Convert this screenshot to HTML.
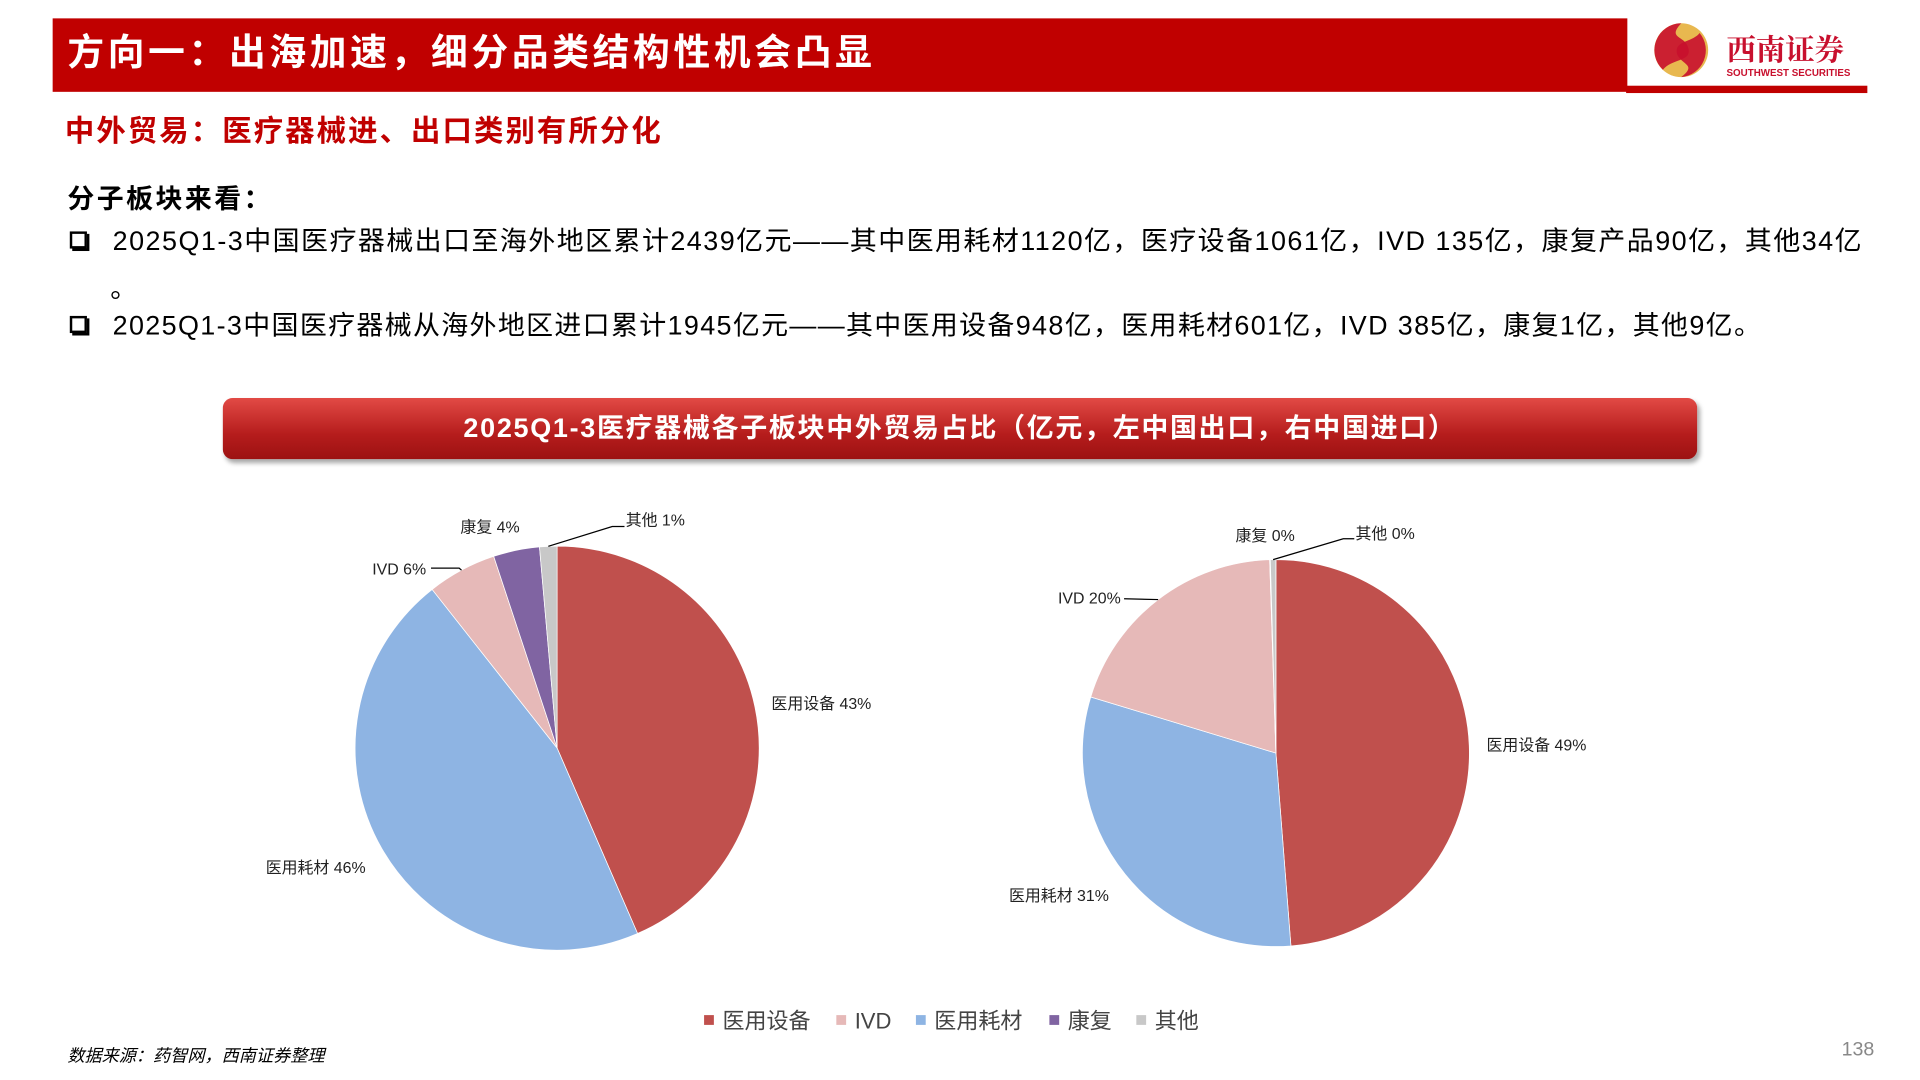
<!DOCTYPE html>
<html><head><meta charset="utf-8"><style>
*{margin:0;padding:0;box-sizing:border-box}
body{width:1920px;height:1080px;overflow:hidden;background:#fff;font-family:"Liberation Sans","Noto Sans CJK SC",sans-serif}
#stage{position:absolute;left:0;top:0;width:1568px;height:882px;transform:scale(1.22449);transform-origin:0 0}
.abs{position:absolute;white-space:nowrap}
</style></head><body>
<div id="stage">
<div class="abs" style="left:43px;top:15px;width:1286px;height:60px;background:#C00000"></div>
<div class="abs" style="left:1328px;top:70px;width:197px;height:6px;background:#C00000"></div>
<div class="abs" style="left:55px;top:24px;color:#fff;font-size:30px;font-weight:bold;line-height:40px;letter-spacing:3px">方向一：出海加速，细分品类结构性机会凸显</div>
<svg class="abs" style="left:1348px;top:17px" width="180" height="52">
<circle cx="25" cy="24" r="22" fill="#E8B84F"/>
<path d="M25 2 A22 22 0 0 0 10 40 C18 30 36 34 30 20 C26 12 14 14 25 2Z" fill="#C8102E" opacity="0.9"/>
<path d="M40 10 C34 18 18 16 22 28 C26 36 38 36 25 46 A22 22 0 0 0 40 10Z" fill="#C8102E" opacity="0.9"/>
<text x="62" y="32" font-size="24" font-weight="bold" fill="#C8102E" font-family="'Noto Serif CJK SC',serif">西南证券</text>
<text x="62" y="45" font-size="8" font-weight="bold" fill="#C8102E">SOUTHWEST SECURITIES</text>
</svg>
<div class="abs" style="left:53px;top:93px;color:#C00000;font-size:24px;font-weight:bold;line-height:30px;letter-spacing:1.7px">中外贸易：医疗器械进、出口类别有所分化</div>
<div class="abs" style="left:55px;top:149px;font-size:22px;font-weight:bold;line-height:28px;letter-spacing:2px">分子板块来看：</div>
<div class="abs" style="left:57px;top:189px;width:14px;height:14px;border:2px solid #000;box-shadow:2px 2px 0 #000"></div>
<div class="abs" style="left:92px;top:183px;font-size:22px;line-height:28px;letter-spacing:1.2px">2025Q1-3中国医疗器械出口至海外地区累计2439亿元——其中医用耗材1120亿，医疗设备1061亿，IVD 135亿，康复产品90亿，其他34亿</div>
<div class="abs" style="left:90px;top:222px;font-size:22px;line-height:28px">。</div>
<div class="abs" style="left:57px;top:258px;width:14px;height:14px;border:2px solid #000;box-shadow:2px 2px 0 #000"></div>
<div class="abs" style="left:92px;top:252px;font-size:22px;line-height:28px;letter-spacing:1.1px">2025Q1-3中国医疗器械从海外地区进口累计1945亿元——其中医用设备948亿，医用耗材601亿，IVD 385亿，康复1亿，其他9亿。</div>
<div class="abs" style="left:182px;top:325px;width:1204px;height:50px;border-radius:8px;background:linear-gradient(#e24a45,#b51c1c 60%,#9c1212);box-shadow:2px 3px 4px rgba(0,0,0,0.35);color:#fff;font-size:22px;font-weight:bold;text-align:center;line-height:50px;letter-spacing:1.4px">2025Q1-3医疗器械各子板块中外贸易占比（亿元，左中国出口，右中国进口）</div>
<svg id="chart" class="abs" style="left:0;top:0" width="1568" height="882"></svg>
<div class="abs" style="left:55px;top:853px;font-size:14px;font-style:italic;line-height:18px">数据来源：药智网，西南证券整理</div>
<div class="abs" style="left:1504px;top:848px;font-size:16px;color:#888;line-height:20px">138</div>
</div>
<script>
const categories=["医用设备","IVD","医用耗材","康复","其他"];
const exportValues=[1061,135,1120,90,34];
const importValues=[948,385,601,1,9];
const exportLabels=["43%","6%","46%","4%","1%"];
const importLabels=["49%","20%","31%","0%","0%"];
const colors=["#C0504D","#E6B9B8","#8EB4E3","#8064A2","#C8C8C8"];
const drawOrder=[0,2,1,3,4];
const NS="http://www.w3.org/2000/svg";
const svg=document.getElementById('chart');
function mk(tag,attrs){const e=document.createElementNS(NS,tag);for(const k in attrs)e.setAttribute(k,attrs[k]);svg.appendChild(e);return e;}
function pie(values,labels,cx,cy,r,prefix,labelPos){
  const total=values.reduce((a,b)=>a+b,0);let a0=0;
  drawOrder.forEach(i=>{
    const a1=a0+values[i]/total*Math.PI*2;
    const x0=cx+r*Math.sin(a0),y0=cy-r*Math.cos(a0),x1=cx+r*Math.sin(a1),y1=cy-r*Math.cos(a1);
    const large=(a1-a0)>Math.PI?1:0;
    const p=mk('path',{d:`M${cx},${cy}L${x0},${y0}A${r},${r} 0 ${large} 1 ${x1},${y1}Z`,fill:colors[i],stroke:'#fff','stroke-width':0.6});
    
    
    const mid=(a0+a1)/2;
    const lp=labelPos[i];
    const t=mk('text',{x:lp[0],y:lp[1],'font-size':13,fill:'#222'});
    t.textContent=categories[i]+' '+labels[i];
    
    
    if(lp[2]){
      const ex=cx+r*Math.sin(mid),ey=cy-r*Math.cos(mid);
      const l=mk('polyline',{points:`${ex},${ey} ${lp[2][0]},${lp[2][1]} ${lp[2][2]},${lp[2][1]}`,fill:'none',stroke:'#000','stroke-width':1});
      
      
    }
    a0=a1;
  });
}
pie(exportValues,exportLabels,455,611,165,'export',[[630,579],[304,469,[375,464,352]],[217,713],[376,435],[511,429,[500,430,510]]]);
pie(importValues,importLabels,1042,615,158,'import',[[1214,613],[864,493,[918,489,918]],[824,736],[1009,442],[1107,440,[1097,440,1106]]]);
const legX=[575,683,748,857,928];
categories.forEach((c,i)=>{
  const r=mk('rect',{x:legX[i],y:829,width:8,height:8,fill:colors[i]});
  
  
  const t=mk('text',{x:legX[i]+15,y:840,'font-size':18,fill:'#444'});
  t.textContent=c;
  
  
});
</script>
</body></html>
